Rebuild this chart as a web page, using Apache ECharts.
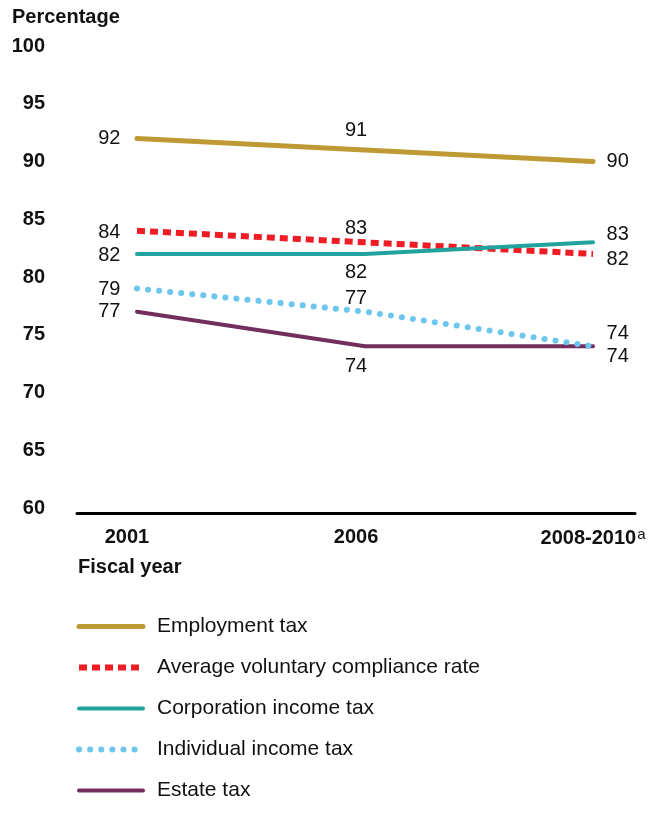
<!DOCTYPE html>
<html>
<head>
<meta charset="utf-8">
<script src="https://cdn.jsdelivr.net/npm/echarts@6/dist/echarts.min.js"></script>
<style>
  html, body { margin: 0; padding: 0; background: #fff; }
  #chart { width: 661px; height: 822px; }
</style>
</head>
<body>
<div id="chart"></div>
<script>
// Fiscal years shown on the horizontal axis
const categories = ['2001', '2006', '2008-2010'];
const yTicks = [60, 65, 70, 75, 80, 85, 90, 95, 100];

// Voluntary compliance rates, in percent
const employmentTax = [92, 91, 90];
const averageRate = [84, 83, 82];
const corporationTax = [82, 82, 83];
const individualTax = [79, 77, 74];
const estateTax = [77, 74, 74];

const FONT = '"Liberation Sans", Arial, sans-serif';

// Label placement per point: [position, distance, offsetX, offsetY]
const labelPlacement = {
  employment: [['left', 16, 0, 0], ['top', 9, -9, 0], ['right', 13, 0, 0]],
  average: [['left', 16, 0, 2], ['top', 3, -9, 0], ['right', 13, 0, 6]],
  corporation: [['left', 16, 0, 2], ['bottom', 8, -9, 0], ['right', 13, 0, -8]],
  individual: [['left', 16, 0, 1], ['top', 3, -9, 0], ['right', 13, 0, -13]],
  estate: [['left', 16, 0, 0], ['bottom', 10, -9, 0], ['right', 13, 0, 10]]
};

function points(values, placement) {
  return values.map((v, i) => {
    const p = placement[i];
    return {
      value: [i, v],
      label: { position: p[0], distance: p[1], offset: [p[2], p[3]] }
    };
  });
}

function lineSeries(name, values, placement, lineStyle, z) {
  return {
    name: name,
    type: 'line',
    z: z,
    symbol: 'circle',
    symbolSize: 1,
    showSymbol: true,
    data: points(values, placement),
    lineStyle: lineStyle,
    itemStyle: { color: 'rgba(0,0,0,0)' },
    label: {
      show: true,
      color: '#111',
      fontFamily: FONT,
      fontSize: 20,
      formatter: (p) => String(p.value[1])
    },
    emphasis: { disabled: true }
  };
}

const chart = echarts.init(document.getElementById('chart'), null, { renderer: 'canvas' });

chart.setOption({
  animation: false,
  backgroundColor: '#fff',
  grid: { left: 77, right: 26, top: 46, bottom: 314, containLabel: false },
  xAxis: {
    type: 'value',
    min: -0.263,
    max: 2.184,
    offset: 5,
    splitLine: { show: false },
    axisTick: { show: false },
    axisLine: { show: true, onZero: false, lineStyle: { color: '#000', width: 3 } },
    axisLabel: {
      customValues: [0, 1, 2],
      margin: 14,
      formatter: (v) => {
        const i = Math.round(v);
        if (i === 0) return '{a|' + categories[0] + '}';
        if (i === 1) return '{b|' + categories[1] + '}';
        return '{c|' + categories[2] + '}{sup|a}';
      },
      rich: {
        a: { fontFamily: FONT, fontWeight: 'bold', fontSize: 20, color: '#111', padding: [0, 20, 0, 0] },
        b: { fontFamily: FONT, fontWeight: 'bold', fontSize: 20, color: '#111', padding: [0, 18, 0, 0] },
        c: { fontFamily: FONT, fontWeight: 'bold', fontSize: 20, color: '#111', padding: [0, 0, 0, 0] },
        sup: { fontFamily: FONT, fontSize: 15, color: '#111', verticalAlign: 'top', padding: [0, 0, 8, 1] }
      }
    }
  },
  yAxis: {
    type: 'value',
    min: yTicks[0],
    max: yTicks[yTicks.length - 1],
    interval: 5,
    splitLine: { show: false },
    axisTick: { show: false },
    axisLine: { show: false },
    axisLabel: {
      margin: 32,
      color: '#111',
      fontFamily: FONT,
      fontWeight: 'bold',
      fontSize: 20
    }
  },
  legend: {
    orient: 'vertical',
    left: 71,
    top: 611,
    height: 211,
    itemWidth: 64,
    itemHeight: 14,
    itemGap: 20,
    data: ['Employment tax', 'Average voluntary compliance rate', 'Corporation income tax', 'Individual income tax', 'Estate tax'],
    textStyle: { fontFamily: FONT, fontSize: 21, color: '#111', padding: [0, 0, 0, 9] },
    itemStyle: { opacity: 0 },
    lineStyle: { width: 'inherit', type: 'inherit', cap: 'inherit' },
    selectedMode: false
  },
  graphic: [
    {
      type: 'text', left: 12, top: 7,
      style: { text: 'Percentage', fontFamily: FONT, fontWeight: 'bold', fontSize: 20, fill: '#111' }
    },
    {
      type: 'text', left: 78, top: 557,
      style: { text: 'Fiscal year', fontFamily: FONT, fontWeight: 'bold', fontSize: 20, fill: '#111' }
    }
  ],
  series: [
    lineSeries('Employment tax', employmentTax, labelPlacement.employment,
      { color: '#BE9A35', width: 5, cap: 'round' }, 2),
    lineSeries('Average voluntary compliance rate', averageRate, labelPlacement.average,
      { color: '#EE1C25', width: 6, type: [8, 5] }, 3),
    lineSeries('Corporation income tax', corporationTax, labelPlacement.corporation,
      { color: '#20A39E', width: 4, cap: 'round' }, 4),
    lineSeries('Estate tax', estateTax, labelPlacement.estate,
      { color: '#722F5E', width: 4, cap: 'round' }, 5),
    lineSeries('Individual income tax', individualTax, labelPlacement.individual,
      { color: '#6CC6EE', width: 6, type: [0.1, 11], cap: 'round' }, 6)
  ]
});
</script>
</body>
</html>
